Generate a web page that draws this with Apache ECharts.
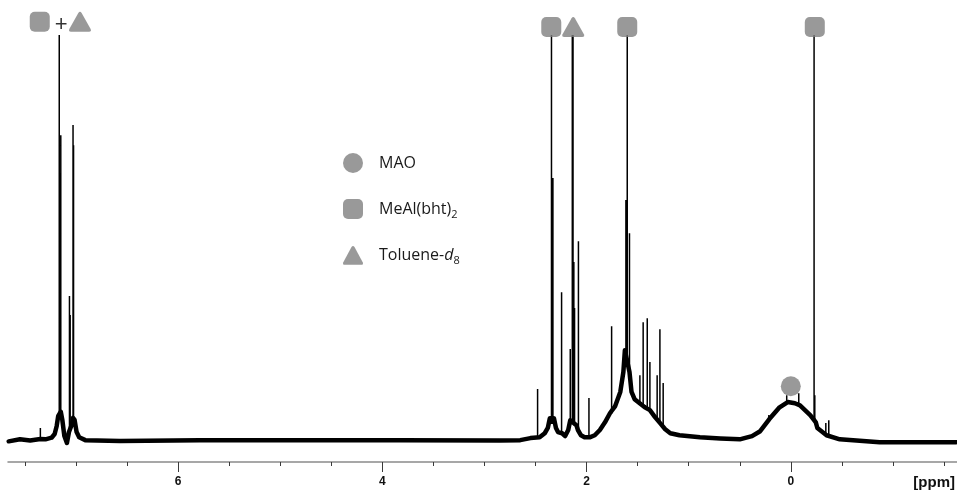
<!DOCTYPE html>
<html>
<head>
<meta charset="utf-8">
<script src="https://cdn.jsdelivr.net/npm/echarts@6/dist/echarts.min.js"></script>
<style>
  html, body { margin: 0; padding: 0; background: #ffffff; }
  #chart { width: 957px; height: 492px; }
</style>
</head>
<body>
<div id="chart"></div>
<script>
// 1H NMR spectrum (toluene-d8), chemical shift in ppm, intensity in arbitrary units
// (0 = baseline, 100 = top of the plotted range; the strongest lines run off-scale).

// Baseline / broad features of the trace, [ppm, intensity]
const envelope = [
  [7.66, -0.3], [7.55, 0.2], [7.45, -0.1], [7.35, 0.3], [7.30, 0.2], [7.24, 0.6],
  [7.21, 1.5], [7.19, 3.5], [7.175, 6.0], [7.15, 7.0], [7.135, 5.0], [7.115, 1.0],
  [7.09, -0.7], [7.07, 2.0], [7.055, 3.0], [7.04, 4.0], [7.03, 5.5], [7.015, 5.0],
  [6.995, 2.0], [6.97, 0.7], [6.91, 0.0], [6.57, -0.2], [5.79, 0.0], [4.81, 0.0],
  [3.83, 0.0], [2.85, -0.1], [2.65, 0.0], [2.55, 0.5], [2.46, 0.7], [2.41, 1.7],
  [2.38, 3.0], [2.36, 5.4], [2.32, 5.4], [2.30, 3.0], [2.28, 2.0], [2.24, 1.7],
  [2.21, 1.0], [2.18, 2.5], [2.16, 4.9], [2.10, 3.7], [2.085, 2.5], [2.055, 1.2],
  [2.02, 0.7], [1.97, 0.7], [1.92, 1.2], [1.87, 2.5], [1.82, 4.4], [1.77, 6.7],
  [1.72, 8.4], [1.67, 11.9], [1.64, 16.8], [1.625, 22.2], [1.58, 16.8], [1.56, 11.9],
  [1.53, 10.1], [1.48, 9.1], [1.43, 8.1], [1.38, 7.4], [1.33, 5.7], [1.28, 4.2],
  [1.23, 2.7], [1.18, 1.7], [1.09, 1.2], [0.89, 0.7], [0.69, 0.4], [0.50, 0.2],
  [0.38, 1.0], [0.30, 2.2], [0.21, 5.2], [0.11, 8.1], [0.03, 9.4], [-0.04, 9.1],
  [-0.09, 8.6], [-0.19, 6.2], [-0.215, 5.4], [-0.245, 4.4], [-0.26, 3.0], [-0.35, 1.2],
  [-0.48, 0.2], [-0.87, -0.5], [-1.62, -0.5]
];

// Sharp lines, [ppm, foot of the line, top of the line]
const peaks = [
  [7.35, 0.3, 3.0],
  [7.165, 6.5, 100], [7.158, 6.5, 65.9], [7.15, 7.0, 75.3],
  [7.065, 2.5, 35.6], [7.058, 2.5, 30.9],
  [7.03, 4.9, 77.8], [7.025, 4.9, 72.8],
  [2.48, 0.7, 12.6],
  [2.344, 4.0, 100], [2.33, 4.0, 64.7],
  [2.245, 1.7, 36.5],
  [2.16, 4.9, 22.5],
  [2.140, 4.0, 100], [2.133, 4.0, 100], [2.125, 4.0, 44.0], [2.118, 3.5, 32.6],
  [2.08, 2.5, 49.1],
  [1.977, 0.7, 10.4],
  [1.755, 6.5, 28.1],
  [1.615, 20.0, 59.3], [1.602, 20.0, 100], [1.58, 16.8, 51.1],
  [1.478, 9.0, 16.0], [1.446, 8.5, 29.1], [1.406, 8.0, 30.1], [1.38, 7.4, 19.3],
  [1.309, 5.5, 16.0], [1.282, 4.2, 27.4], [1.25, 3.5, 14.1],
  [0.215, 5.0, 6.2], [0.04, 9.4, 11.1], [-0.078, 8.8, 11.6],
  [-0.228, 5.0, 100], [-0.235, 4.5, 11.1],
  [-0.343, 1.5, 4.2], [-0.372, 1.2, 4.9]
];

// Assignment markers, [ppm, height]
const maoMarks = [[0.0, 13.3]];
const mealMarks = [[7.356, 103.3], [2.346, 102.0], [1.602, 102.0], [-0.235, 102.0]];
const tolueneMarks = [[6.962, 103.3], [2.131, 102.0]];
const plusMarks = [[7.146, 102.6]];

// Labelled shifts on the ppm axis
const tickLabels = [6, 4, 2, 0];

// Legend entries
const legendNames = ['MAO', 'MeAl(bht)2', 'Toluene-d8'];
const legendRich = {
  'MAO': '{t|MAO}',
  'MeAl(bht)2': '{t|MeAl(bht)}{s|2}',
  'Toluene-d8': '{t|Toluene-}{i|d}{s|8}'
};

// Each sharp line becomes a vertical stroke; '-' breaks the polyline between lines
const spikeData = [];
peaks.forEach(([p, foot, top]) => {
  spikeData.push([p, foot], [p, top], [p, '-']);
});

const GREY = '#808080';
const TRI = 'path://M43,10Q50,0,57,10L95,80Q100,92,88,92L12,92Q0,92,5,80Z';
const legendFont = '"Open Sans", "Noto Sans", sans-serif';

const chart = echarts.init(document.getElementById('chart'), null, { renderer: 'canvas' });

chart.setOption({
  animation: false,
  backgroundColor: '#ffffff',
  grid: [
    // plotting grid, wide enough that the ppm ticks fall on multiples of 0.5
    { left: -26, right: -38, top: 10, bottom: 30, outerBoundsMode: 'none', containLabel: false },
    // grid carrying only the visible axis line
    { left: 8, right: 0, top: 10, bottom: 30, outerBoundsMode: 'none', containLabel: false }
  ],
  xAxis: [
    {
      gridIndex: 0,
      type: 'value',
      inverse: true,
      min: -2,
      max: 8,
      interval: 2,
      axisLine: { show: false, onZero: false },
      axisTick: { show: true, length: 10, lineStyle: { color: '#3a3a3a', width: 1 } },
      minorTick: { show: true, splitNumber: 4, length: 4, lineStyle: { color: '#3a3a3a', width: 1 } },
      splitLine: { show: false },
      minorSplitLine: { show: false },
      axisLabel: {
        margin: 14,
        color: '#111111',
        fontFamily: '"Liberation Sans", Arial, sans-serif',
        fontWeight: 'bold',
        fontSize: 12,
        formatter: v => (tickLabels.indexOf(v) >= 0 ? String(v) : '')
      }
    },
    {
      gridIndex: 1,
      type: 'value',
      min: 0,
      max: 1,
      axisLine: { show: true, onZero: false, lineStyle: { color: '#8a8a8a', width: 1.5 } },
      axisTick: { show: false },
      axisLabel: { show: false },
      splitLine: { show: false }
    }
  ],
  yAxis: [
    { gridIndex: 0, type: 'value', min: -5.4, max: 106.2, show: false },
    { gridIndex: 1, type: 'value', min: 0, max: 1, show: false }
  ],
  legend: {
    data: legendNames,
    orient: 'vertical',
    left: 343,
    top: 153,
    padding: 0,
    itemWidth: 20,
    itemHeight: 20,
    itemGap: 26,
    selectedMode: false,
    formatter: name => legendRich[name],
    textStyle: {
      fontFamily: legendFont,
      fontSize: 16,
      color: '#1a1a1a',
      padding: [0, 0, 0, 11],
      rich: {
        t: { fontFamily: legendFont, fontSize: 16, lineHeight: 22, color: '#1a1a1a' },
        i: { fontFamily: legendFont, fontSize: 16, lineHeight: 22, fontStyle: 'italic', color: '#1a1a1a' },
        s: { fontFamily: legendFont, fontSize: 11, lineHeight: 11, verticalAlign: 'bottom', color: '#1a1a1a' }
      }
    }
  },
  graphic: [
    {
      type: 'text',
      right: 2,
      top: 475,
      style: {
        text: '[ppm]',
        font: 'bold 15px "Liberation Sans", Arial, sans-serif',
        fill: '#111111'
      }
    }
  ],
  series: [
    {
      name: 'trace',
      type: 'line',
      xAxisIndex: 0,
      yAxisIndex: 0,
      data: envelope,
      showSymbol: false,
      symbol: 'none',
      silent: true,
      lineStyle: { color: '#000000', width: 4.5, join: 'round', cap: 'round' },
      z: 2
    },
    {
      name: 'lines',
      type: 'line',
      xAxisIndex: 0,
      yAxisIndex: 0,
      data: spikeData,
      connectNulls: false,
      showSymbol: false,
      symbol: 'none',
      silent: true,
      lineStyle: { color: '#000000', width: 1.5 },
      z: 3
    },
    {
      name: 'MAO',
      type: 'scatter',
      xAxisIndex: 0,
      yAxisIndex: 0,
      data: maoMarks,
      symbol: 'circle',
      symbolSize: 20,
      itemStyle: { color: GREY },
      clip: false,
      z: 5
    },
    {
      name: 'MeAl(bht)2',
      type: 'scatter',
      xAxisIndex: 0,
      yAxisIndex: 0,
      data: mealMarks,
      symbol: 'roundRect',
      symbolSize: 20,
      itemStyle: { color: GREY },
      clip: false,
      z: 5
    },
    {
      name: 'Toluene-d8',
      type: 'scatter',
      xAxisIndex: 0,
      yAxisIndex: 0,
      data: tolueneMarks,
      symbol: TRI,
      symbolSize: [22, 20],
      itemStyle: { color: GREY },
      clip: false,
      z: 5
    },
    {
      name: 'plus',
      type: 'scatter',
      xAxisIndex: 0,
      yAxisIndex: 0,
      data: plusMarks,
      symbolSize: 1,
      itemStyle: { color: 'rgba(0,0,0,0)' },
      label: {
        show: true,
        position: 'inside',
        formatter: '+',
        fontFamily: '"Liberation Sans", Arial, sans-serif',
        fontSize: 22,
        color: '#000000'
      },
      clip: false,
      z: 5
    }
  ]
});
</script>
</body>
</html>
